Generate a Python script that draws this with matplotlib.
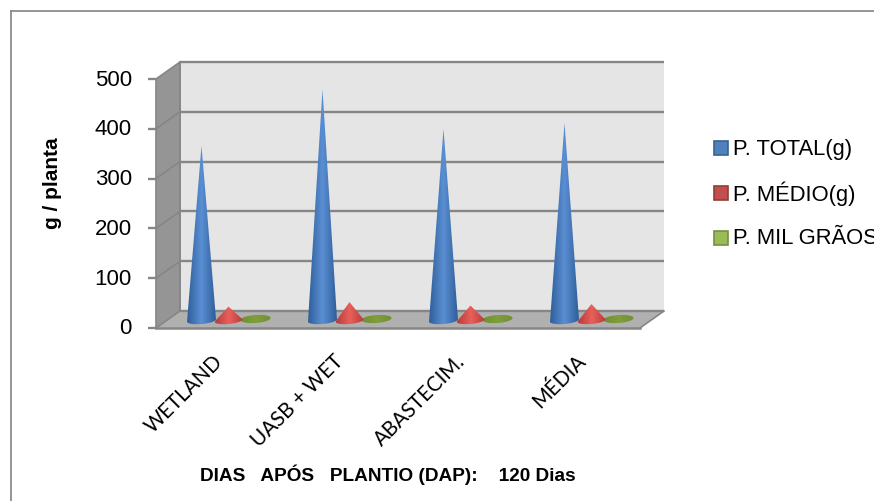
import numpy as np
import matplotlib
matplotlib.use("Agg")
import matplotlib.pyplot as plt
from matplotlib.colors import LinearSegmentedColormap
from matplotlib.patches import Polygon, Rectangle

plt.rcParams['font.family'] = ['Liberation Sans', 'DejaVu Sans']

categories = ['WETLAND', 'UASB + WET', 'ABASTECIM.', 'MÉDIA']
p_total = [351, 464, 385, 397]
p_medio = [28, 37, 30, 33]
p_mil_graos = [1, 1, 1, 1]
y_ticks = [0, 100, 200, 300, 400, 500]
leg_labels = ['P. TOTAL(g)', 'P. MÉDIO(g)', 'P. MIL GRÃOS']

W, H = 874, 501
fig = plt.figure(figsize=(W / 100, H / 100), dpi=100)

# axes = front plane of the 3d box
left, right, top, bottom = 156, 640, 79, 328
ax = fig.add_axes([left / W, 1 - bottom / H, (right - left) / W, (bottom - top) / H])
ax.axis('off')

px_x = 4 / (right - left)
px_y = 500 / (bottom - top)
dx = 24 * px_x
dy = 17 * px_y

wall = '#e5e5e5'
side = '#959595'
floor = '#b0b0b0'
grid = '#868686'


def draw_poly(pts, **kw):
    ax.add_patch(Polygon(pts, closed=True, clip_on=False, **kw))


draw_poly([(dx, dy), (4 + dx, dy), (4 + dx, 500 + dy), (dx, 500 + dy)], fc=wall, ec='none', zorder=1)
draw_poly([(0, 0), (dx, dy), (dx, 500 + dy), (0, 500)], fc=side, ec='none', zorder=1)
draw_poly([(0, 0), (4, 0), (4 + dx, dy), (dx, dy)], fc=floor, ec='none', zorder=1)

for t in y_ticks:
    ax.plot([dx, 4 + dx], [t + dy, t + dy], color=grid, lw=1.7, clip_on=False, zorder=2, solid_capstyle='butt')
    ax.plot([0, dx], [t, t + dy], color=grid, lw=1.2, clip_on=False, zorder=2)
    ax.plot([-8 * px_x, 0], [t, t], color=grid, lw=1.7, clip_on=False, zorder=2, solid_capstyle='butt')
    ax.text(-24 * px_x, t - 1 * px_y, str(t), ha='right', va='center', fontsize=16, clip_on=False)
ax.plot([0, 4], [0, 0], color=grid, lw=1.8, clip_on=False, zorder=2)
ax.plot([0, 0], [0, 500], color=grid, lw=1.2, clip_on=False, zorder=2)
ax.plot([dx, dx], [dy, 500 + dy], color=grid, lw=1.4, clip_on=False, zorder=2)
ax.plot([4, 4 + dx], [0, dy], color=grid, lw=1.2, clip_on=False, zorder=2)

cmap_blue = LinearSegmentedColormap.from_list('b', ['#2f5f9a', '#5b8fd4', '#2f5f9a'])
cmap_red = LinearSegmentedColormap.from_list('r', ['#b93c3a', '#e8605c', '#b93c3a'])
cmap_green = LinearSegmentedColormap.from_list('g', ['#6f8f33', '#7f9f3c', '#6f8f33'])
grad = np.linspace(0, 1, 64).reshape(1, -1)


def draw_mark(verts, cx, hw, y0, y1, cmap, z):
    # polygon clip + imshow gives the horizontal shading of the 3d shapes
    clip = Polygon(verts, closed=True, transform=ax.transData, fc='none', ec='none')
    ax.add_patch(clip)
    im = ax.imshow(grad, extent=[cx - hw, cx + hw, y0, y1], cmap=cmap, aspect='auto', zorder=z)
    im.set_clip_path(clip)


def draw_cone(cx, value, half_w, cmap, z):
    hw = half_w * px_x
    ry = 3.5 * px_y
    tilt = 1.2 * px_y
    base = dy / 2 - 1 * px_y
    ts = np.linspace(np.pi, 2 * np.pi, 40)
    verts = [(cx + hw * np.cos(a), base + ry * np.sin(a) + tilt * np.cos(a)) for a in ts]
    verts.append((cx, base + value))
    draw_mark(verts, cx, hw, base - 2 * ry, base + value + 1, cmap, z)


def draw_disc(cx, value, half_w, cmap, z):
    hw = half_w * px_x
    ry = 4 * px_y
    tilt = 1 * px_y
    base = dy / 2 + value
    ts = np.linspace(0, 2 * np.pi, 60)
    verts = [(cx + hw * np.cos(a), base + ry * np.sin(a) + tilt * np.cos(a)) for a in ts]
    draw_mark(verts, cx, hw, base - 2 * ry, base + 2 * ry, cmap, z)


# bar offset inside each category, in category units
off = 27 * px_x
for i in range(len(categories)):
    c = i + 0.5 + dx / 2
    draw_disc(c + off, p_mil_graos[i], 15, cmap_green, 4)
    draw_cone(c, p_medio[i], 14, cmap_red, 5)
    draw_cone(c - off, p_total[i], 14.5, cmap_blue, 6)
    ax.text(c - 16 * px_x, -23 * px_y, categories[i], rotation=45, ha='right', va='top',
            rotation_mode='anchor', fontsize=14.8, family=['Lato', 'DejaVu Sans'], clip_on=False)
ax.set_xlim(0, 4)
ax.set_ylim(0, 500)

fig.text(53 / W, 1 - 183 / H, 'g / planta', rotation=90, ha='center', va='center',
         fontsize=15, fontweight='bold')
fig.text(388 / W, 1 - 475 / H, 'DIAS   APÓS   PLANTIO (DAP):    120 Dias', ha='center', va='center',
         fontsize=13.7, fontweight='bold')

# legend drawn by hand so it runs off the right edge like the original
leg_fc = ['#4f81bd', '#c0504d', '#9bbb59']
leg_ec = ['#3a6291', '#943c3a', '#76903f']
leg_y = [148, 193, 238]
for lab, fc, ec, y in zip(leg_labels, leg_fc, leg_ec, leg_y):
    fig.add_artist(Rectangle((713.5 / W, 1 - (y + 7) / H), 14.5 / W, 14.5 / H, fc=fc, ec=ec, lw=1.2,
                             transform=fig.transFigure))
    fig.text(733 / W, 1 - (y + 1) / H, lab, ha='left', va='center', fontsize=15.8)

# outer border of the chart
for x0, y0, x1, y1 in [(10.5, 10.5, 874, 10.5), (10.5, 10.5, 10.5, 501)]:
    fig.add_artist(plt.Line2D([x0 / W, x1 / W], [1 - y0 / H, 1 - y1 / H], color='#8c8c8c', lw=1.3))

fig.savefig('out.png', dpi=100)
